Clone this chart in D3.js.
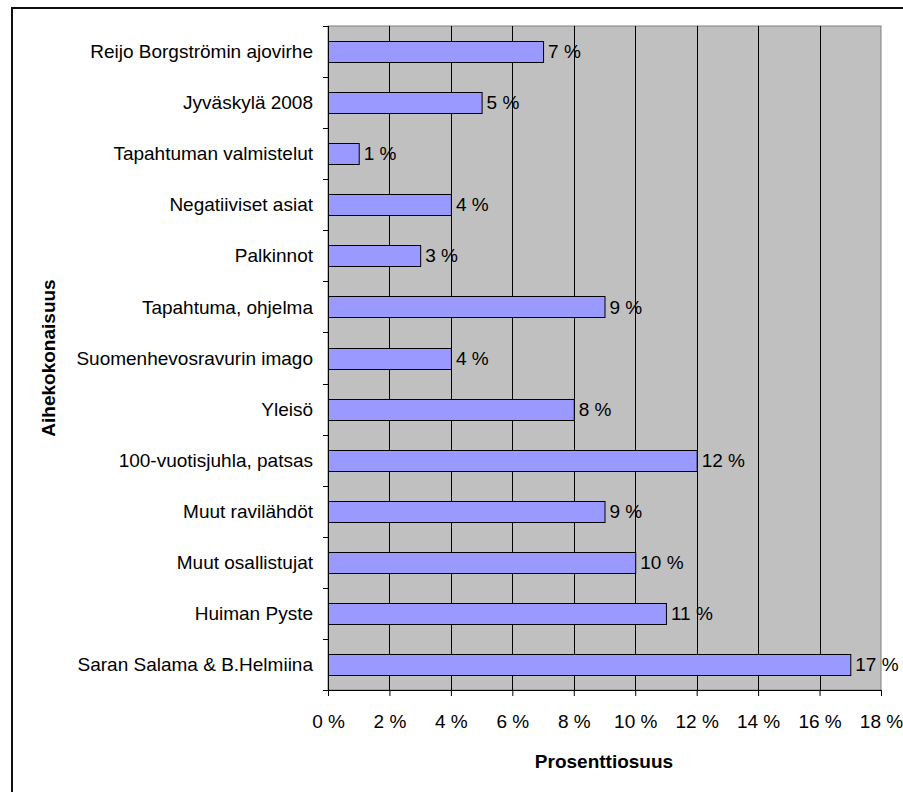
<!DOCTYPE html>
<html>
<head>
<meta charset="utf-8">
<script src="https://cdn.jsdelivr.net/npm/d3@7"></script>
<style>
  body { margin: 0; background: #fff; }
  text { font-family: "Liberation Sans", Arial, sans-serif; }
</style>
</head>
<body>
<script>
'use strict';

// categories, top to bottom
const topics = ["Reijo Borgströmin ajovirhe", "Jyväskylä 2008", "Tapahtuman valmistelut",
    "Negatiiviset asiat", "Palkinnot", "Tapahtuma, ohjelma", "Suomenhevosravurin imago",
    "Yleisö", "100-vuotisjuhla, patsas", "Muut ravilähdöt", "Muut osallistujat",
    "Huiman Pyste", "Saran Salama & B.Helmiina"];

// share in percent
const shares = [7, 5, 1, 4, 3, 9, 4, 8, 12, 9, 10, 11, 17];

// x ticks
const xTicks = [0, 2, 4, 6, 8, 10, 12, 14, 16, 18];

const width = 903, height = 792;
const plot = { left: 328, right: 881, top: 26, bottom: 690 };
const fontSize = '19px';

const svg = d3.select('body')
    .append('svg')
    .attr('width', width)
    .attr('height', height);

// outer frame (runs off the page on right and bottom)
svg.append('rect')
    .attr('x', 12)
    .attr('y', 8)
    .attr('width', 1000)
    .attr('height', 1000)
    .attr('fill', '#fff')
    .attr('stroke', '#111')
    .attr('stroke-width', 2);

const xScale = d3.scaleLinear()
    .domain([0, 18])
    .range([plot.left, plot.right]);

const yScale = d3.scaleBand()
    .domain(topics)
    .range([plot.top, plot.bottom])
    .paddingInner(0.59)
    .paddingOuter(0.295);

// plot background
svg.append('rect')
    .attr('x', plot.left)
    .attr('y', plot.top)
    .attr('width', plot.right - plot.left)
    .attr('height', plot.bottom - plot.top)
    .attr('fill', '#c0c0c0')
    .attr('stroke', '#808080')
    .attr('stroke-width', 1);

// vertical gridlines
svg.selectAll('.grid')
    .data(xTicks.filter(d => d > 0 && d < 18))
    .enter()
    .append('line')
    .attr('x1', d => Math.round(xScale(d)) + 0.5)
    .attr('x2', d => Math.round(xScale(d)) + 0.5)
    .attr('y1', plot.top)
    .attr('y2', plot.bottom)
    .attr('stroke', '#000')
    .attr('stroke-width', 1);

// bars
svg.selectAll('.bar')
    .data(shares)
    .enter()
    .append('rect')
    .attr('x', xScale(0) + 0.5)
    .attr('y', (d, i) => Math.round(yScale(topics[i])) + 0.5)
    .attr('width', d => xScale(d) - xScale(0))
    .attr('height', Math.round(yScale.bandwidth()))
    .attr('fill', '#9999ff')
    .attr('stroke', '#000')
    .attr('stroke-width', 1);

// value labels
svg.selectAll('.val')
    .data(shares)
    .enter()
    .append('text')
    .attr('x', d => xScale(d) + 5)
    .attr('y', (d, i) => yScale(topics[i]) + yScale.bandwidth() / 2)
    .attr('dy', '0.35em')
    .style('font-size', fontSize)
    .text(d => d + ' %');

// x axis
const xAxis = d3.axisBottom(xScale)
    .tickValues(xTicks)
    .tickSize(6)
    .tickPadding(19)
    .tickFormat(d => d + ' %');
const gx = svg.append('g')
    .attr('transform', `translate(0, ${plot.bottom})`)
    .call(xAxis);
gx.selectAll('text').style('font-size', fontSize).attr('fill', '#000');
gx.selectAll('line, path').attr('stroke', '#000');

// y axis: ticks between categories
const yTickPos = d3.range(topics.length + 1).map(i => plot.top + i * (plot.bottom - plot.top) / topics.length);
svg.append('line')
    .attr('x1', plot.left + 0.5)
    .attr('x2', plot.left + 0.5)
    .attr('y1', plot.top)
    .attr('y2', plot.bottom)
    .attr('stroke', '#000');
svg.selectAll('.ytick')
    .data(yTickPos)
    .enter()
    .append('line')
    .attr('x1', plot.left - 5)
    .attr('x2', plot.left)
    .attr('y1', d => Math.round(d) + 0.5)
    .attr('y2', d => Math.round(d) + 0.5)
    .attr('stroke', '#000');

// category labels
svg.selectAll('.cat')
    .data(topics)
    .enter()
    .append('text')
    .attr('x', plot.left - 15)
    .attr('y', d => yScale(d) + yScale.bandwidth() / 2)
    .attr('dy', '0.35em')
    .attr('text-anchor', 'end')
    .style('font-size', fontSize)
    .text(d => d);

// axis titles
svg.append('text')
    .attr('x', 604)
    .attr('y', 768)
    .attr('text-anchor', 'middle')
    .style('font-size', fontSize)
    .style('font-weight', 'bold')
    .text('Prosenttiosuus');

svg.append('text')
    .attr('transform', 'translate(55, 358) rotate(-90)')
    .attr('text-anchor', 'middle')
    .style('font-size', fontSize)
    .style('font-weight', 'bold')
    .text('Aihekokonaisuus');
</script>
</body>
</html>
